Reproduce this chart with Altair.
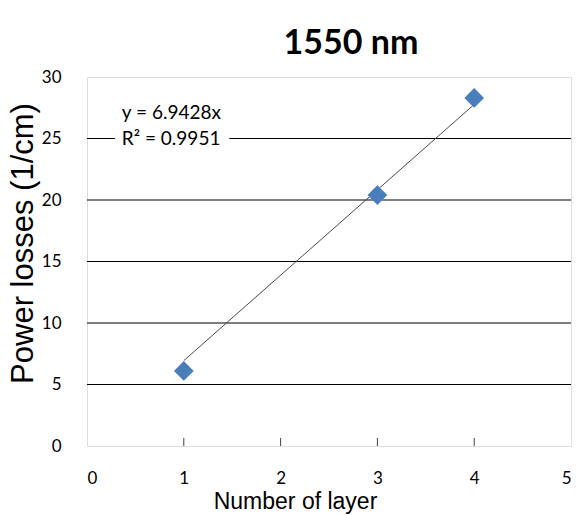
import altair as alt
import pandas as pd

# data
layers = [1, 3, 4]
losses = [6.1, 20.4, 28.3]
trend_x = [1, 4]
trend_y = [6.9428, 27.7712]
x_ticks = [0, 1, 2, 3, 4, 5]
y_ticks = [0, 5, 10, 15, 20, 25, 30]
grid_vals = [5, 10, 15, 20, 25]
inner_ticks = [1, 2, 3, 4]
eq_lines = ["y = 6.9428x", "R\u00b2 = 0.9951"]
eq_y = [27.1, 25.0]
eq_x = [0.36, 0.36]
box_x = [0.29]
box_x2 = [1.47]
box_y = [23.9]
box_y2 = [26.1]

W, H = 484, 369

pts = pd.DataFrame({"x": layers, "y": losses})
trend = pd.DataFrame({"x": trend_x, "y": trend_y})
grid = pd.DataFrame({"y": grid_vals})
ticks = pd.DataFrame({"x": inner_ticks})
eq = pd.DataFrame({"x": eq_x, "y": eq_y, "t": eq_lines})
box = pd.DataFrame({"x": box_x, "x2": box_x2, "y": box_y, "y2": box_y2})

xscale = alt.Scale(domain=[0, 5], nice=False, zero=False)
yscale = alt.Scale(domain=[0, 30], nice=False, zero=False)

xaxis = alt.Axis(values=x_ticks, format="d", ticks=False, domain=False, grid=False,
                 labelFont="Lato", labelFontSize=17, labelColor="black",
                 labelPadding=24, title="Number of layer",
                 titleFont="Liberation Sans", titleFontSize=23,
                 titleFontWeight="normal", titleColor="black",
                 titleX=208, titleY=62, titleBaseline="alphabetic",
                 titleAlign="center")
yaxis = alt.Axis(values=y_ticks, format="d", ticks=False, domain=False, grid=False,
                 labelFont="Lato", labelFontSize=17, labelColor="black",
                 labelPadding=26, title="Power losses (1/cm)",
                 titleFont="Liberation Sans", titleFontSize=31,
                 titleFontWeight="normal", titleColor="black",
                 titleAngle=270, titleX=-64, titleY=166,
                 titleBaseline="middle", titleAlign="center")

gridlines = alt.Chart(grid).mark_rule(color="black", strokeWidth=1.2).encode(
    y=alt.Y("y:Q", scale=yscale, axis=yaxis)
)

tick_marks = alt.Chart(ticks).mark_rule(color="#444444", strokeWidth=1).encode(
    x=alt.X("x:Q", scale=xscale, axis=xaxis),
    y=alt.value(H), y2=alt.value(H - 8)
)

bg = alt.Chart(box).mark_rect(color="white").encode(
    x=alt.X("x:Q", scale=xscale), x2="x2:Q",
    y=alt.Y("y:Q", scale=yscale), y2="y2:Q"
)

eq_text = alt.Chart(eq).mark_text(font="Lato", fontSize=19, align="left",
                                  baseline="middle", color="black").encode(
    x=alt.X("x:Q", scale=xscale), y=alt.Y("y:Q", scale=yscale), text="t:N"
)

trend_line = alt.Chart(trend).mark_line(color="#4a4a4a", strokeWidth=1).encode(
    x=alt.X("x:Q", scale=xscale), y=alt.Y("y:Q", scale=yscale)
)

points = alt.Chart(pts).mark_point(shape="diamond", filled=True, size=390,
                                   color="#4a7ebb", opacity=1).encode(
    x=alt.X("x:Q", scale=xscale), y=alt.Y("y:Q", scale=yscale)
)

title = alt.Chart(pd.DataFrame({"t": ["1550 nm"]})).mark_text(
    font="Lato", fontSize=34, fontWeight="bold", color="black",
    align="center", baseline="alphabetic"
).encode(x=alt.value(264), y=alt.value(-23), text="t:N")

chart = alt.layer(gridlines, tick_marks, bg, eq_text, trend_line, points, title).properties(
    width=W, height=H,
    autosize=alt.AutoSizeParams(type="none"),
    padding={"left": 87, "top": 77, "right": 12, "bottom": 69},
).configure_view(stroke="#868686", strokeWidth=1.5).configure(background="white")

chart.save("out.html", embed_options={"renderer": "svg", "actions": False})
